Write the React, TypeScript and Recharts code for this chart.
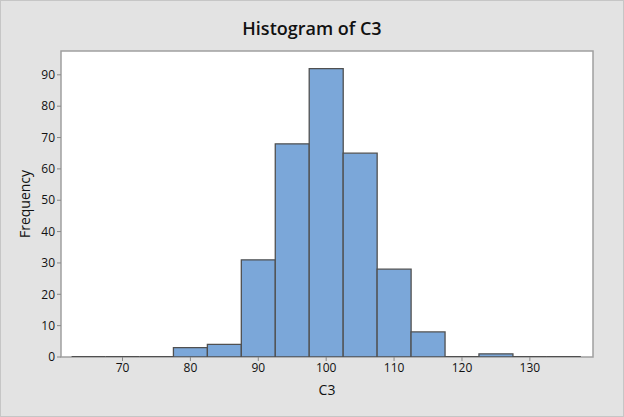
import React from "react";
import { ComposedChart, Bar, XAxis, YAxis, ReferenceArea, Label } from "recharts";

const binMids = [65, 70, 75, 80, 85, 90, 95, 100, 105, 110, 115, 120, 125, 130, 135];
const counts = [0, 0, 0, 3, 4, 31, 68, 92, 65, 28, 8, 0, 1, 0, 0];
const xTicks = [70, 80, 90, 100, 110, 120, 130];
const yTicks = [0, 10, 20, 30, 40, 50, 60, 70, 80, 90];
const xDomain = [60.94, 139.3];
const yDomain = [0, 97.6];

const data = binMids.map((m, i) => ({ mid: m, count: counts[i] }));

const FONT = "'Open Sans', 'Noto Sans', sans-serif";

const BinShape = (props: any) => {
  const { x, y, width, height } = props;
  const h = height || 0;
  const d = `M${x},${y + h} V${y} H${x + width} V${y + h} Z`;
  return <path d={d} fill="#7BA7D9" stroke="#505050" strokeWidth={h === 0 ? 2 : 1.3} />;
};

export default function App() {
  return (
    <div
      style={{
        position: "absolute",
        left: 0,
        top: 0,
        width: 624,
        height: 417,
        boxSizing: "border-box",
        border: "1px solid #c6c6c6",
        background: "#e3e3e3",
        fontFamily: FONT,
      }}
    >
      <div
        style={{
          position: "absolute",
          left: 0,
          width: 622,
          top: 15,
          textAlign: "center",
          fontSize: 18,
          fontWeight: 600,
          color: "#111",
        }}
      >
        Histogram of C3
      </div>
      <ComposedChart
        width={622}
        height={415}
        data={data}
        margin={{ top: 50, right: 30, left: 0, bottom: 0 }}
        barCategoryGap={0}
        barGap={0}
      >
        <XAxis
          dataKey="mid"
          type="number"
          domain={xDomain}
          ticks={xTicks}
          allowDataOverflow
          height={59}
          axisLine={false}
          tickLine={{ stroke: "#888" }}
          tickSize={4}
          tick={{ fontSize: 12, fill: "#111", fontFamily: FONT }}
        >
          <Label value="C3" position="insideBottom" offset={21} style={{ fontSize: 14, fill: "#111", fontFamily: FONT }} />
        </XAxis>
        <YAxis
          type="number"
          domain={yDomain}
          ticks={yTicks}
          allowDataOverflow
          width={60}
          axisLine={false}
          tickLine={{ stroke: "#888" }}
          tickSize={4}
          tick={{ fontSize: 12, fill: "#111", fontFamily: FONT }}
        >
          <Label
            value="Frequency"
            angle={-90}
            position="insideLeft"
            offset={24}
            style={{ fontSize: 14, fill: "#111", fontFamily: FONT, textAnchor: "middle" }}
          />
        </YAxis>
        <ReferenceArea
          x1={xDomain[0]}
          x2={xDomain[1]}
          y1={yDomain[0]}
          y2={yDomain[1]}
          fill="#ffffff"
          fillOpacity={1}
          stroke="#a0a0a0"
          strokeWidth={1.5}
          ifOverflow="visible"
        />
        <Bar dataKey="count" isAnimationActive={false} shape={BinShape} minPointSize={0} />
      </ComposedChart>
    </div>
  );
}
